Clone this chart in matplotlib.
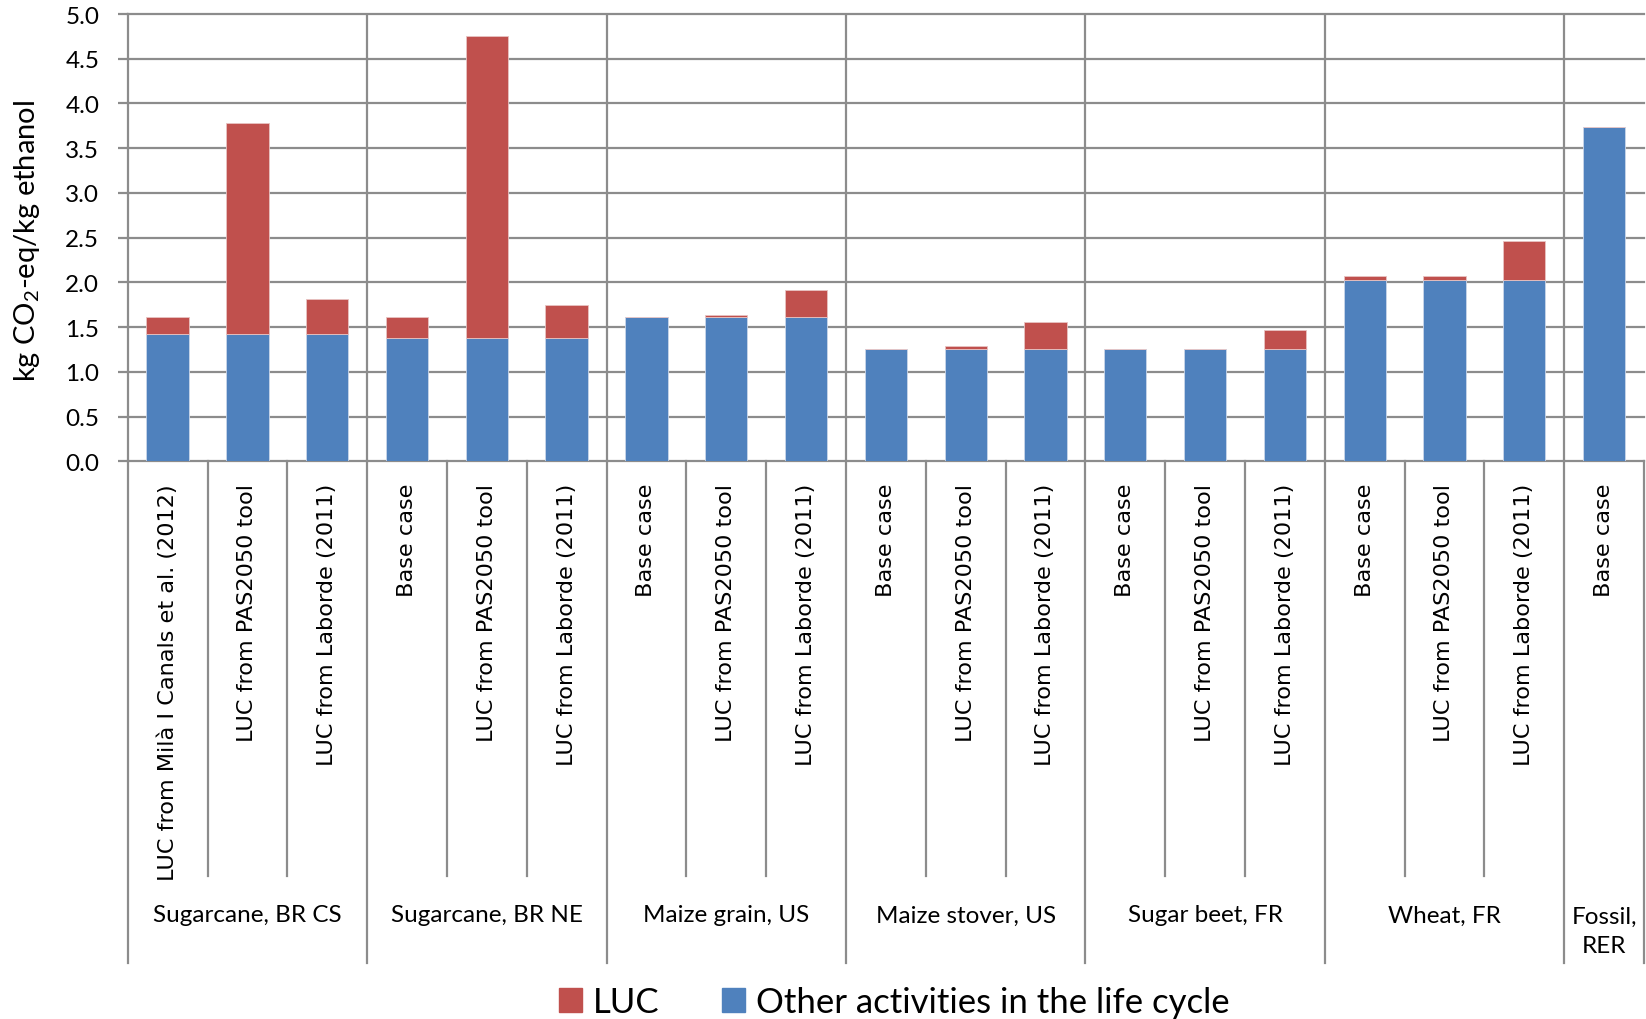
import matplotlib
matplotlib.use("Agg")
import matplotlib.pyplot as plt
from matplotlib.patches import Patch
import numpy as np

# ---- data -------------------------------------------------------------
scenarios = [
    "LUC from Milà I Canals et al. (2012)", "LUC from PAS2050 tool", "LUC from Laborde (2011)",
    "Base case", "LUC from PAS2050 tool", "LUC from Laborde (2011)",
    "Base case", "LUC from PAS2050 tool", "LUC from Laborde (2011)",
    "Base case", "LUC from PAS2050 tool", "LUC from Laborde (2011)",
    "Base case", "LUC from PAS2050 tool", "LUC from Laborde (2011)",
    "Base case", "LUC from PAS2050 tool", "LUC from Laborde (2011)",
    "Base case",
]
groups = ["Sugarcane, BR CS", "Sugarcane, BR NE", "Maize grain, US",
          "Maize stover, US", "Sugar beet, FR", "Wheat, FR", "Fossil,\nRER"]
group_sizes = [3, 3, 3, 3, 3, 3, 1]

other_activities = [1.42, 1.42, 1.42,
                    1.375, 1.375, 1.375,
                    1.61, 1.61, 1.61,
                    1.26, 1.26, 1.26,
                    1.26, 1.26, 1.26,
                    2.025, 2.025, 2.025,
                    3.74]
luc = [0.19, 2.365, 0.395,
       0.235, 3.38, 0.375,
       0.0, 0.025, 0.30,
       0.0, 0.03, 0.30,
       0.0, 0.0, 0.21,
       0.045, 0.045, 0.435,
       0.0]

yticks = [0.0, 0.5, 1.0, 1.5, 2.0, 2.5, 3.0, 3.5, 4.0, 4.5, 5.0]

# ---- style ------------------------------------------------------------
BLUE = "#4F81BD"
RED = "#C0504D"
GRID = "#8C8C8C"
plt.rcParams["mathtext.fontset"] = "custom"
plt.rcParams["mathtext.rm"] = "Lato"
plt.rcParams["mathtext.it"] = "Lato:italic"

W, H, DPI = 1646, 1020, 100
fig = plt.figure(figsize=(W / DPI, H / DPI), dpi=DPI)

left_px, right_px, top_px, bottom_px = 127.7, 1644, 15, 462.3
ax = fig.add_axes([left_px / W, 1 - bottom_px / H,
                   (right_px - left_px) / W, (bottom_px - top_px) / H])

n = len(scenarios)
x = np.arange(n) + 0.5
bw = 0.53
ax.bar(x, other_activities, width=bw, color=BLUE, zorder=3,
       edgecolor="#C9D6EA", linewidth=0.6)
ax.bar(x, luc, width=bw, bottom=other_activities, color=RED, zorder=3,
       edgecolor="#E8C3C2", linewidth=0.6)

ax.set_xlim(0, n)
ax.set_ylim(0, 5)
ax.set_yticks(yticks)
ax.set_yticklabels([f"{v:.1f}" for v in yticks], family="Lato", fontsize=17.5)
ax.tick_params(axis="y", length=7.5, width=1.6, color=GRID, pad=13)
ax.set_xticks([])

for s in ["top", "right", "bottom"]:
    ax.spines[s].set_visible(False)
ax.spines["left"].set_color(GRID)
ax.spines["left"].set_linewidth(1.6)

for v in yticks:
    ax.axhline(v, color=GRID, lw=1.6, zorder=1, clip_on=False)

# group boundaries
bounds = np.concatenate([[0], np.cumsum(group_sizes)])
for b in bounds[1:-1]:
    ax.axvline(b, color=GRID, lw=1.6, zorder=1)

# table-like category axis below the plot
xt = ax.get_xaxis_transform()
inner_end = (bottom_px - 877) / (bottom_px - top_px)
outer_end = (bottom_px - 964) / (bottom_px - top_px)
for i in range(n + 1):
    is_group = i in bounds
    ax.plot([i, i], [0, outer_end if is_group else inner_end], transform=xt,
            color=GRID, lw=1.6, clip_on=False, zorder=1)

label_top = (bottom_px - 484) / (bottom_px - top_px)
for xi, lab in zip(x, scenarios):
    ax.text(xi, label_top, lab, transform=xt, rotation=90, ha="center", va="top",
            family="DejaVu Sans", fontsize=16.1)

group_y = (bottom_px - 916) / (bottom_px - top_px)
fossil_y = (bottom_px - 932) / (bottom_px - top_px)
for gi, g in enumerate(groups):
    cx = (bounds[gi] + bounds[gi + 1]) / 2
    ax.text(cx, fossil_y if "\n" in g else group_y, g, transform=xt,
            ha="center", va="center", family="Lato", fontsize=17.5,
            linespacing=1.5)

fig.text(27 / W, 1 - 241 / H, r"kg CO$_2$-eq/kg ethanol", rotation=90,
         ha="center", va="center", family="Lato", fontsize=21)

handles = [Patch(color=RED), Patch(color=BLUE)]
fig.legend(handles, ["LUC", "Other activities in the life cycle"],
           loc="center", bbox_to_anchor=(894 / W, 1 - 1003 / H), ncol=2,
           frameon=False, prop={"family": "Lato", "size": 25},
           handlelength=0.66, handleheight=0.66, handletextpad=0.32,
           columnspacing=1.8, borderpad=0, borderaxespad=0)

fig.savefig("out.png", dpi=DPI)
